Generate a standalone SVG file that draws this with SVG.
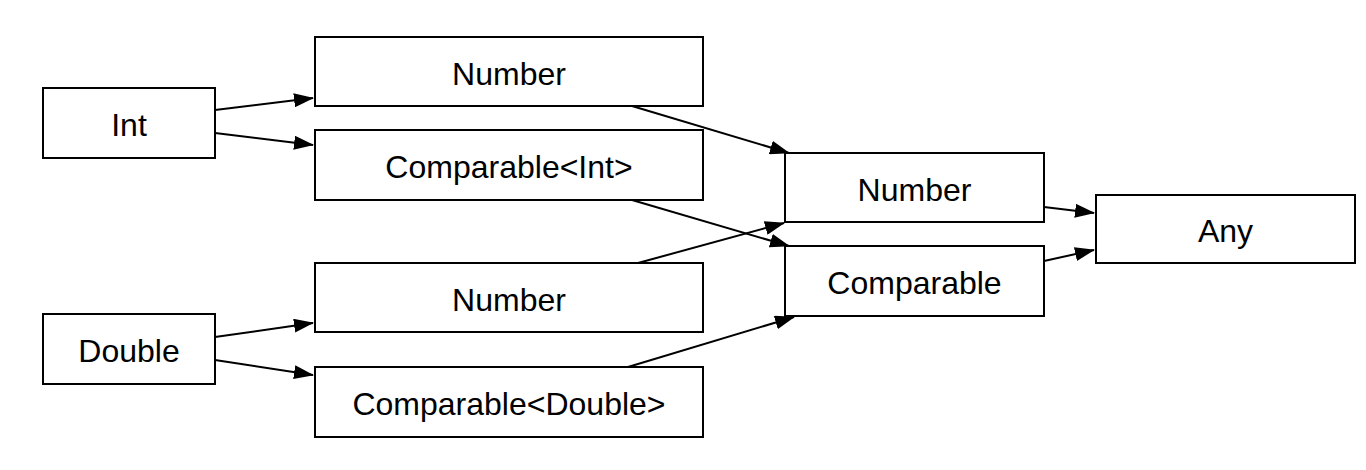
<svg xmlns="http://www.w3.org/2000/svg" width="1366" height="470" viewBox="0 0 1366 470">
<defs>
<marker id="ah" markerWidth="20" markerHeight="14" refX="19" refY="7" orient="auto" markerUnits="userSpaceOnUse">
<path d="M0,0 L20,7 L0,14 Z" fill="#000"/>
</marker>
<style>
.box{fill:#fff;stroke:#000;stroke-width:2}
.lbl{font-family:"Liberation Sans",Arial,sans-serif;font-size:32px;fill:#000;text-anchor:middle;dominant-baseline:central}
.edge{stroke:#000;stroke-width:2;fill:none;marker-end:url(#ah)}
</style>
</defs>
<rect width="1366" height="470" fill="#fff"/>
<g id="connectors">
<line class="edge" x1="215" y1="110" x2="313" y2="98"/>
<line class="edge" x1="215" y1="133" x2="313" y2="145"/>
<line class="edge" x1="215" y1="337" x2="313" y2="323"/>
<line class="edge" x1="215" y1="360" x2="313" y2="375"/>
<line class="edge" x1="632" y1="106" x2="789" y2="153"/>
<line class="edge" x1="632" y1="200" x2="789" y2="246"/>
<line class="edge" x1="638" y1="263" x2="784" y2="223"/>
<line class="edge" x1="628" y1="367" x2="794" y2="317"/>
<line class="edge" x1="1044" y1="207" x2="1094" y2="213"/>
<line class="edge" x1="1044" y1="261" x2="1094" y2="250"/>
</g>
<g id="int"><rect class="box" x="43" y="88" width="172" height="70"/><text class="lbl" x="129" y="125">Int</text></g>
<g id="double"><rect class="box" x="43" y="314" width="172" height="70"/><text class="lbl" x="129" y="351">Double</text></g>
<g id="number-int"><rect class="box" x="315" y="37" width="388" height="69"/><text class="lbl" x="509" y="74">Number</text></g>
<g id="comparable-int"><rect class="box" x="315" y="130" width="388" height="70"/><text class="lbl" x="509" y="167">Comparable&lt;Int&gt;</text></g>
<g id="number-double"><rect class="box" x="315" y="263" width="388" height="69"/><text class="lbl" x="509" y="300">Number</text></g>
<g id="comparable-double"><rect class="box" x="315" y="367" width="388" height="70"/><text class="lbl" x="509" y="404">Comparable&lt;Double&gt;</text></g>
<g id="number"><rect class="box" x="785" y="153" width="259" height="69"/><text class="lbl" x="914.500" y="190">Number</text></g>
<g id="comparable"><rect class="box" x="785" y="246" width="259" height="70"/><text class="lbl" x="914.500" y="283">Comparable</text></g>
<g id="any"><rect class="box" x="1096" y="195" width="259" height="68"/><text class="lbl" x="1225.500" y="231">Any</text></g>
</svg>
